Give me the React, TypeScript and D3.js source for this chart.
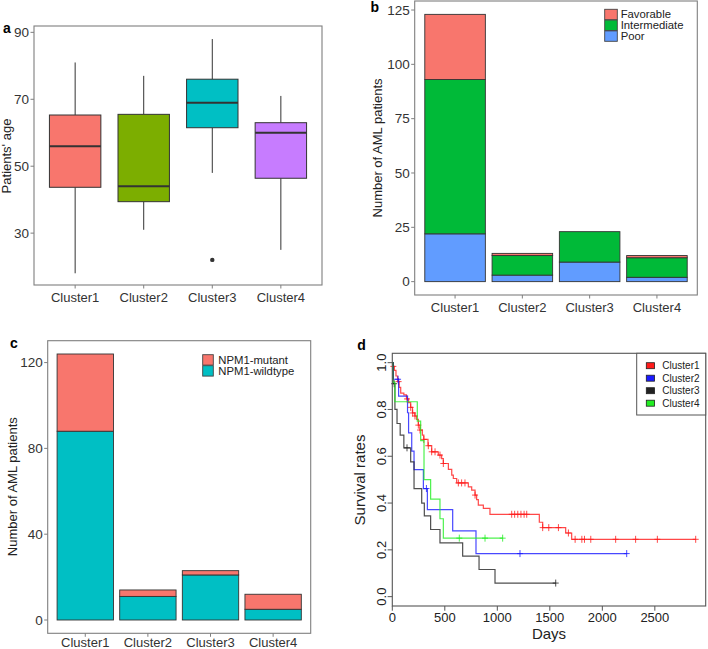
import React from "react";
import * as d3 from "d3";

// ---------- data ----------
const clusters = ["Cluster1", "Cluster2", "Cluster3", "Cluster4"];
const boxColors = ["#F8766D", "#7CAE00", "#00BFC4", "#C77CFF"];
const ageWhiskerLow = [18, 31, 48, 25];
const ageQ1 = [43.7, 39.4, 61.5, 46.4];
const ageMedian = [56, 44, 69, 60];
const ageQ3 = [65.3, 65.5, 76, 63];
const ageWhiskerHigh = [81, 77, 88, 71];
const ageOutliers: number[][] = [[], [], [22], []];
const ageTicks = [30, 50, 70, 90];

const riskPoor = [22, 3, 9, 2];
const riskIntermediate = [71, 9, 14, 9];
const riskFavorable = [30, 1, 0, 1];
const riskLegend = ["Favorable", "Intermediate", "Poor"];
const riskColors = ["#F8766D", "#00BA38", "#619CFF"];
const riskTicks = [0, 25, 50, 75, 100, 125];

const npmWildtype = [88, 11, 21, 5];
const npmMutant = [36, 3, 2, 7];
const npmLegend = ["NPM1-mutant", "NPM1-wildtype"];
const npmColors = ["#F8766D", "#00BFC4"];
const npmTicks = [0, 40, 80, 120];

const km1Times = [0, 8, 20, 35, 50, 65, 80, 110, 135, 155, 175, 192, 215, 232, 248, 264, 286, 300, 340, 375, 438, 470, 486, 534, 566, 581, 613, 724, 756, 788, 803, 819, 867, 930, 1400, 1432, 1651, 1708];
const km1Surv = [1, 0.984, 0.967, 0.943, 0.919, 0.894, 0.87, 0.862, 0.845, 0.829, 0.809, 0.785, 0.772, 0.758, 0.733, 0.712, 0.69, 0.672, 0.645, 0.619, 0.605, 0.59, 0.569, 0.544, 0.519, 0.505, 0.486, 0.469, 0.455, 0.434, 0.415, 0.391, 0.377, 0.352, 0.318, 0.295, 0.272, 0.245];
const km1End = 2889;
const km1Censor = [10, 60, 140, 175, 194, 216, 248, 264, 300, 343, 375, 407, 454, 486, 629, 660, 692, 788, 1137, 1165, 1195, 1225, 1255, 1280, 1432, 1490, 1582, 1677, 1741, 1805, 1830, 1890, 2127, 2317, 2524, 2889];

const km2Times = [0, 10, 60, 145, 155, 185, 207, 296, 334, 575, 797];
const km2Surv = [1, 0.929, 0.857, 0.786, 0.7, 0.622, 0.543, 0.462, 0.372, 0.281, 0.184];
const km2End = 2232;
const km2Censor = [55, 325, 1216, 2232];

const km3Times = [0, 8, 25, 45, 75, 110, 175, 207, 280, 305, 365, 454, 670, 826, 978];
const km3Surv = [1, 0.91, 0.8, 0.74, 0.69, 0.636, 0.576, 0.462, 0.4, 0.345, 0.287, 0.23, 0.173, 0.116, 0.058];
const km3End = 1556;
const km3Censor = [18, 140, 1556];

const km4Times = [0, 4, 25, 238, 270, 302, 365, 454, 486];
const km4Surv = [1, 0.917, 0.833, 0.75, 0.667, 0.5, 0.417, 0.333, 0.25];
const km4End = 1051;
const km4Censor = [638, 883, 1051];

const kmLegend = ["Cluster1", "Cluster2", "Cluster3", "Cluster4"];
const kmColors = ["#ff1a1a", "#1a1aff", "#222222", "#22ee22"];
const kmXTicks = [0, 500, 1000, 1500, 2000, 2500];
const kmYTicks = [0, 0.2, 0.4, 0.6, 0.8, 1.0];

// ---------- helpers ----------
const FONT = "'Liberation Sans', Arial, sans-serif";
const BORDER = "#7f7f7f";
const TICKCOL = "#333";

function bandScale(x0: number, x1: number) {
  return d3.scaleBand<string>().domain(clusters).range([x0, x1]).paddingInner(0).paddingOuter(0.1);
}

function GGFrame({ x0, x1, y0, y1, yScale, yTicks, xScale, xLabelY }: any) {
  const bw = xScale.bandwidth();
  return (
    <g>
      <rect x={x0} y={y0} width={x1 - x0} height={y1 - y0} fill="none" stroke={BORDER} strokeWidth={1.1} />
      {yTicks.map((t: number) => (
        <g key={"y" + t}>
          <line x1={x0 - 3.5} x2={x0} y1={yScale(t)} y2={yScale(t)} stroke={BORDER} />
          <text x={x0 - 5} y={yScale(t) + 4.6} textAnchor="end" fontSize={13.5} fill={TICKCOL}>
            {t}
          </text>
        </g>
      ))}
      {clusters.map((c) => {
        const cx = (xScale(c) as number) + bw / 2;
        return (
          <g key={"x" + c}>
            <line x1={cx} x2={cx} y1={y1} y2={y1 + 3.5} stroke={BORDER} />
            <text x={cx} y={xLabelY} textAnchor="middle" fontSize={13} fill={TICKCOL}>
              {c}
            </text>
          </g>
        );
      })}
    </g>
  );
}

function PanelA() {
  const x0 = 34, x1 = 322, y0 = 26, y1 = 285;
  const x = bandScale(x0, x1);
  const y = d3.scaleLinear().domain([14.5, 91.9]).range([y1, y0]);
  const bw = x.bandwidth();
  const boxW = bw * 0.75;
  return (
    <g>
      {clusters.map((c, i) => {
        const cx = (x(c) as number) + bw / 2;
        return (
          <g key={c}>
            <line x1={cx} x2={cx} y1={y(ageWhiskerHigh[i])} y2={y(ageQ3[i])} stroke="#333" strokeWidth={1} />
            <line x1={cx} x2={cx} y1={y(ageQ1[i])} y2={y(ageWhiskerLow[i])} stroke="#333" strokeWidth={1} />
            <rect x={cx - boxW / 2} y={y(ageQ3[i])} width={boxW} height={y(ageQ1[i]) - y(ageQ3[i])} fill={boxColors[i]} stroke="#333" strokeWidth={1} />
            <line x1={cx - boxW / 2} x2={cx + boxW / 2} y1={y(ageMedian[i])} y2={y(ageMedian[i])} stroke="#333" strokeWidth={2} />
            {ageOutliers[i].map((o, k) => (
              <circle key={k} cx={cx} cy={y(o)} r={2.2} fill="#333" />
            ))}
          </g>
        );
      })}
      <GGFrame x0={x0} x1={x1} y0={y0} y1={y1} yScale={y} yTicks={ageTicks} xScale={x} xLabelY={301.5} />
      <text transform={`translate(10.5,156) rotate(-90)`} textAnchor="middle" fontSize={13} fill="#222">
        Patients' age
      </text>
      <text x={3} y={33} fontSize={14} fontWeight="bold" fill="#000">a</text>
    </g>
  );
}

function StackBars({ x, y, layers, colors }: any) {
  const bw = x.bandwidth();
  const barW = bw * 0.9;
  return (
    <g>
      {layers.map((layer: any, li: number) =>
        layer.map((d: any, i: number) => {
          const cx = (x(clusters[i]) as number) + bw / 2;
          if (d[1] - d[0] <= 0) return null;
          return (
            <rect
              key={li + "-" + i}
              x={cx - barW / 2}
              y={y(d[1])}
              width={barW}
              height={y(d[0]) - y(d[1])}
              fill={colors[li]}
              stroke="#333"
              strokeWidth={0.9}
            />
          );
        })
      )}
    </g>
  );
}

function PanelB() {
  const x0 = 414.7, x1 = 697.3, y0 = 1, y1 = 295;
  const x = bandScale(x0, x1);
  const total = d3.max(clusters.map((_, i) => riskPoor[i] + riskIntermediate[i] + riskFavorable[i])) as number;
  const y = d3.scaleLinear().domain([-total * 0.05, total * 1.05]).range([y1, y0]);
  const rows = clusters.map((c, i) => ({ poor: riskPoor[i], inter: riskIntermediate[i], fav: riskFavorable[i] }));
  const stack = d3.stack<any>().keys(["poor", "inter", "fav"])(rows);
  const cols = [riskColors[2], riskColors[1], riskColors[0]];
  return (
    <g>
      <StackBars x={x} y={y} layers={stack} colors={cols} />
      <GGFrame x0={x0} x1={x1} y0={y0} y1={y1} yScale={y} yTicks={riskTicks} xScale={x} xLabelY={311.5} />
      {riskLegend.map((l, i) => (
        <g key={l}>
          <rect x={604.7} y={9.3 + i * 10.8} width={12.6} height={10.4} fill={riskColors[i]} stroke="#444" strokeWidth={0.9} />
          <text x={620.7} y={18.2 + i * 10.8} fontSize={11.3} fill="#222">{l}</text>
        </g>
      ))}
      <text transform={`translate(382,148) rotate(-90)`} textAnchor="middle" fontSize={13} fill="#222">
        Number of AML patients
      </text>
      <text x={370.5} y={12} fontSize={14} fontWeight="bold" fill="#000">b</text>
    </g>
  );
}

function PanelC() {
  const x0 = 47.7, x1 = 310.7, y0 = 340.7, y1 = 633.3;
  const x = bandScale(x0, x1);
  const total = d3.max(clusters.map((_, i) => npmWildtype[i] + npmMutant[i])) as number;
  const y = d3.scaleLinear().domain([-total * 0.05, total * 1.05]).range([y1, y0]);
  const rows = clusters.map((c, i) => ({ wt: npmWildtype[i], mut: npmMutant[i] }));
  const stack = d3.stack<any>().keys(["wt", "mut"])(rows);
  const cols = [npmColors[1], npmColors[0]];
  return (
    <g>
      <StackBars x={x} y={y} layers={stack} colors={cols} />
      <GGFrame x0={x0} x1={x1} y0={y0} y1={y1} yScale={y} yTicks={npmTicks} xScale={x} xLabelY={647} />
      {npmLegend.map((l, i) => (
        <g key={l}>
          <rect x={202.7} y={354.7 + i * 11} width={10.6} height={10.4} fill={npmColors[i]} stroke="#444" strokeWidth={0.9} />
          <text x={218.3} y={363.6 + i * 11} fontSize={11.3} fill="#222">{l}</text>
        </g>
      ))}
      <text transform={`translate(17,486.7) rotate(-90)`} textAnchor="middle" fontSize={13} fill="#222">
        Number of AML patients
      </text>
      <text x={10} y={347.5} fontSize={14} fontWeight="bold" fill="#000">c</text>
    </g>
  );
}

function PanelD() {
  const x0 = 392.3, x1 = 705.7, y0 = 353.3, y1 = 606;
  const maxT = d3.max([km1End, km2End, km3End, km4End]) as number;
  const x = d3.scaleLinear().domain([0, maxT * 1.033]).range([x0, x1]);
  const y = d3.scaleLinear().domain([-0.04, 1.04]).range([y1, y0]);
  const curves = [
    { t: km1Times, s: km1Surv, end: km1End, cen: km1Censor },
    { t: km2Times, s: km2Surv, end: km2End, cen: km2Censor },
    { t: km3Times, s: km3Surv, end: km3End, cen: km3Censor },
    { t: km4Times, s: km4Surv, end: km4End, cen: km4Censor },
  ];
  const line = d3
    .line<[number, number]>()
    .x((d) => x(d[0]))
    .y((d) => y(d[1]))
    .curve(d3.curveStepAfter);
  const survAt = (c: any, tt: number) => {
    const idx = d3.bisectRight(c.t, tt) - 1;
    return c.s[Math.max(0, idx)];
  };
  return (
    <g>
      {curves.map((c, ci) => {
        const pts: [number, number][] = c.t.map((tt: number, i: number) => [tt, c.s[i]] as [number, number]);
        pts.push([c.end, c.s[c.s.length - 1]]);
        return (
          <g key={ci} stroke={kmColors[ci]} strokeOpacity={0.8}>
            <path d={line(pts) as string} fill="none" strokeWidth={1.2} />
            {c.cen.map((ct: number, k: number) => {
              const cx = x(ct), cy = y(survAt(c, ct));
              return (
                <g key={k} strokeWidth={1}>
                  <line x1={cx - 3} x2={cx + 3} y1={cy} y2={cy} />
                  <line x1={cx} x2={cx} y1={cy - 3.5} y2={cy + 3.5} />
                </g>
              );
            })}
          </g>
        );
      })}
      <rect x={x0} y={y0} width={x1 - x0} height={y1 - y0} fill="none" stroke="#555" strokeWidth={1.1} />
      {kmXTicks.map((t) => (
        <g key={"x" + t}>
          <line x1={x(t)} x2={x(t)} y1={y1} y2={y1 + 4.7} stroke="#555" />
          <text x={x(t)} y={621.5} textAnchor="middle" fontSize={13} fill="#222">{t}</text>
        </g>
      ))}
      {kmYTicks.map((t) => (
        <g key={"y" + t}>
          <line x1={x0 - 4.7} x2={x0} y1={y(t)} y2={y(t)} stroke="#555" />
          <text transform={`translate(385.5,${y(t)}) rotate(-90)`} textAnchor="middle" fontSize={13} fill="#222">
            {t.toFixed(1)}
          </text>
        </g>
      ))}
      <text x={549} y={638.5} textAnchor="middle" fontSize={15} fill="#222">Days</text>
      <text transform={`translate(365,480) rotate(-90)`} textAnchor="middle" fontSize={15} fill="#222">
        Survival rates
      </text>
      <rect x={636.7} y={y0} width={x1 - 636.7} height={415 - y0} fill="#fff" stroke="#555" strokeWidth={1} />
      {kmLegend.map((l, i) => (
        <g key={l}>
          <rect x={646.3} y={362.7 + i * 12.5} width={8.3} height={6} fill={kmColors[i]} stroke="#222" strokeWidth={0.8} />
          <text x={662.3} y={369.3 + i * 12.5} fontSize={10} fill="#222">{l}</text>
        </g>
      ))}
      <text x={357.3} y={350} fontSize={14} fontWeight="bold" fill="#000">d</text>
    </g>
  );
}

export default function App() {
  return (
    <svg
      width={708}
      height={649}
      style={{ position: "absolute", left: 0, top: 0, background: "#fff" }}
      fontFamily={FONT}
    >
      <rect x={0} y={0} width={708} height={649} fill="#fff" />
      <PanelA />
      <PanelB />
      <PanelC />
      <PanelD />
    </svg>
  );
}
